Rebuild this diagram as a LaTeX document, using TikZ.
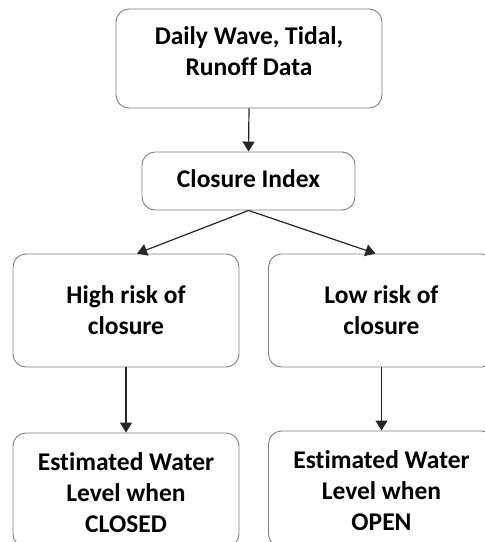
\documentclass[tikz,border=0pt]{standalone}
\usepackage{fontspec}
\setmainfont[RawFeature=-liga]{Carlito}
\usetikzlibrary{arrows.meta,calc}

\tikzset{
  box/.style={draw=black!50, line width=0.9bp, rounded corners=13bp, fill=white, inner sep=0pt},
  txt/.style={align=center, font=\bfseries\fontsize{25.5bp}{31bp}\selectfont, inner sep=0pt},
  link/.style={draw=black!85, line width=1.2bp, -{Triangle[width=12bp,length=10bp]}}
}

\begin{document}
\begin{tikzpicture}[x=1bp, y=-1bp]
  \useasboundingbox (0,0) rectangle (485,542);
  \clip (0,0) rectangle (485,542);

  % input data and index
  \node[box, minimum width=266bp, minimum height=99bp] (data) at (249,58.5) {};
  \node[txt] (dataText) at ([yshift=7bp]data.center) {Daily Wave, Tidal,\\Runoff Data};
  \node[box, minimum width=213bp, minimum height=58bp] (index) at (248.5,181) {};
  \node[txt] (indexText) at ([yshift=2bp]index.center) {Closure Index};

  % risk classes
  \node[box, minimum width=226bp, minimum height=113bp] (high) at (126,310.5) {};
  \node[txt] (highText) at (high.center) {High risk of\\closure};
  \node[box, minimum width=226bp, minimum height=113bp] (low) at (381.5,310.5) {};
  \node[txt] (lowText) at (low.center) {Low risk of\\closure};

  % water level estimates
  \node[box, minimum width=226bp, minimum height=114bp] (closed) at (126,490) {};
  \node[txt] (closedText) at ([yshift=-3bp]closed.center) {Estimated Water\\Level when\\CLOSED};
  \node[box, minimum width=226bp, minimum height=116bp] (open) at (381.5,489) {};
  \node[txt] (openText) at ([yshift=-2bp]open.center) {Estimated Water\\Level when\\OPEN};

  % connectors
  \draw[link] (data.south) -- (index.north);
  \draw[link] (index.south) -- ([xshift=11bp]high.north);
  \draw[link] (index.south) -- ([xshift=-6bp]low.north);
  \draw[link] (high.south) -- (closed.north);
  \draw[link] (low.south) -- (open.north);
\end{tikzpicture}
\end{document}
